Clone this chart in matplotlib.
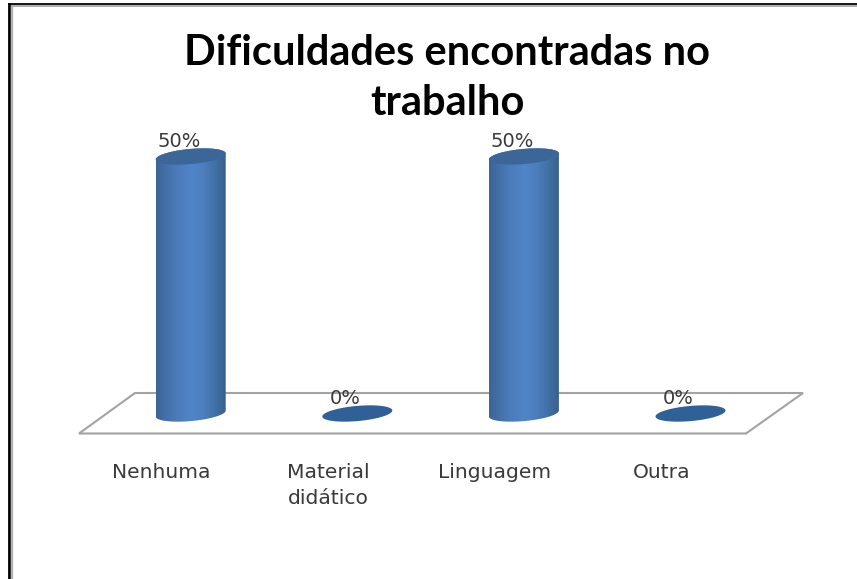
import matplotlib
matplotlib.use("Agg")
import matplotlib.pyplot as plt
import numpy as np
from matplotlib.colors import LinearSegmentedColormap
from matplotlib.patches import Polygon

categories = ["Nenhuma", "Material\ndidático", "Linguagem", "Outra"]
values = [50, 0, 50, 0]
value_labels = ["50%", "0%", "50%", "0%"]
title = "Dificuldades encontradas no\ntrabalho"

W, H = 857, 579
X0, DX = 190.7, 166.6  # pixel x of first bar, spacing
Y0, DY = 413.5, 5.14   # pixel y of value 0, pixels per percent

fig = plt.figure(figsize=(W / 100, H / 100), dpi=100, facecolor="white")
ax = fig.add_axes([0, 0, 1, 1])
ax.axis("off")


def px(x, y):
    # picture pixels to data units
    return (x - X0) / DX, (Y0 - y) / DY


def ellipse(i, v, t):
    dx = 35 * np.cos(t)
    dy = -7.6 * np.sin(t) - 3.0 * np.cos(t)
    return i + dx / DX, v - dy / DY


# page frame
for xs, ys, c, lw in [
    ([9, 9], [3, 579], "black", 2.8),
    ([12, 12], [6, 579], "#b5b5b5", 2.4),
    ([8, 857], [3.5, 3.5], "black", 1.8),
    ([11, 857], [5.5, 5.5], "#a8a8a8", 1.8),
]:
    p = [px(a, b) for a, b in zip(xs, ys)]
    ax.plot([q[0] for q in p], [q[1] for q in p], color=c, lw=lw * 0.72, zorder=1,
            solid_capstyle="butt")

# floor
floor = [px(79, 433.5), px(135, 393), px(803, 393), px(746, 433.5)]
ax.add_patch(Polygon(floor, closed=True, facecolor="white", edgecolor="#a3a3a3", lw=1.5, zorder=2))

cmap = LinearSegmentedColormap.from_list(
    "cyl", ["#3c6594", "#4672ac", "#4d7dbd", "#5085c8", "#4d7fbf", "#4272a8", "#38608c"]
)
grad = np.linspace(0, 1, 128).reshape(1, -1)

for i, v in enumerate(values):
    full = np.linspace(0, 2 * np.pi, 120)
    ex, ey = ellipse(i, 0, full)
    if v > 0:
        top_x, top_y = ellipse(i, v, np.linspace(0, np.pi, 60))
        base_x, base_y = ellipse(i, 0, np.linspace(np.pi, 2 * np.pi, 60))
        outline = np.column_stack([np.r_[top_x, base_x], np.r_[top_y, base_y]])
        body = Polygon(outline, closed=True, facecolor="none", edgecolor="none", zorder=3)
        ax.add_patch(body)
        im = ax.imshow(grad, cmap=cmap, aspect="auto", zorder=3, interpolation="bilinear",
                       extent=[i - 35 / DX, i + 35 / DX, -20 / DY, v + 20 / DY])
        im.set_clip_path(body)
        tx, ty = ellipse(i, v, full)
        ax.fill(tx, ty, color="#3b6697", lw=0, zorder=4)
    else:
        ax.fill(ex, ey, color="#2f6096", lw=0, zorder=4)
    ax.text(i - 12 / DX, v + 15.5 / DY, value_labels[i], ha="center", va="center", fontsize=14,
            color="#3a3a3a", zorder=5)
    ax.text(i - 29 / DX, -50 / DY, categories[i], ha="center", va="top", fontsize=14.6,
            color="#3a3a3a", linespacing=1.45, zorder=5)

# imshow resets the limits, so set them last
ax.set_xlim(-X0 / DX, (W - X0) / DX)
ax.set_ylim(-(H - Y0) / DY, Y0 / DY)

tx_, ty_ = px(447, 78)
ax.text(tx_, ty_, title, ha="center", va="center", fontsize=30, fontweight="bold",
        family="Lato", color="black", linespacing=1.36, zorder=5)

fig.savefig("out.png", dpi=100)
